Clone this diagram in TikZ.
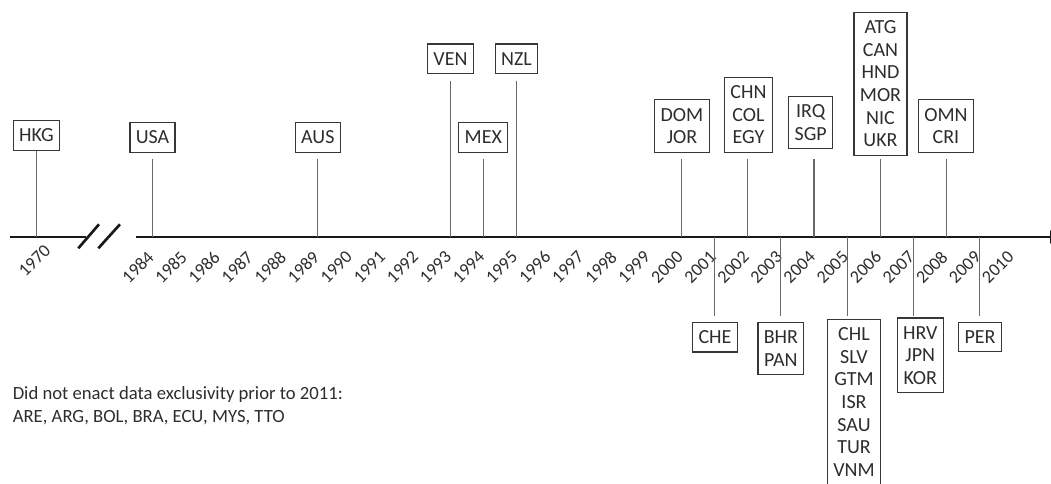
\documentclass[tikz,border=0pt]{standalone}
\usepackage{fontspec}
\setmainfont{Carlito}
\usetikzlibrary{arrows.meta,positioning}
\definecolor{inkgray}{RGB}{45,45,45}
\definecolor{stemgray}{RGB}{105,105,105}
\definecolor{boxgray}{RGB}{55,55,55}

\tikzset{
  country/.style={draw=boxgray,line width=0.9pt,align=center,text=inkgray,
    inner xsep=4.4pt,inner ysep=6.2pt,font=\fontsize{15}{17}\selectfont},
  stem/.style={draw=stemgray,line width=0.8pt,shorten >=4.7pt},
  yearlab/.style={rotate=45,anchor=east,inner sep=0pt,text=inkgray,
    font=\fontsize{13.5}{14}\selectfont},
  axisline/.style={line width=2pt,black!90}
}

\begin{document}
\begin{tikzpicture}[x=0.75pt,y=-0.75pt]
\clip (0,0) rectangle (1051,483);
% time axis, broken after 1970
\coordinate (axleft) at (10,237);
\coordinate (axbreak) at (86,237);
\coordinate (axstart) at (136,237);
\coordinate (axend) at (1062,237);
\draw[axisline] (axleft) -- (axbreak);
\draw[axisline] (78.3,248.3) -- (99,224.3);
\draw[axisline] (98.3,248.3) -- (120,224.3);
\draw[axisline,-{Triangle[length=9pt,width=9.5pt]}] (axstart) -- (axend);

% years
\coordinate (y1970) at (36.7,237);
\node[yearlab] (lab1970) at (47.6,247.4) {1970};
\foreach \yr in {1984,...,2010}{
  \coordinate (y\yr) at ({152.4+33.08*(\yr-1984)},237);
  \node[yearlab] (lab\yr) at ([xshift=-1.2pt,yshift=-12.8pt]y\yr) {\yr};
}

% above the axis
\node[country,anchor=south] (hkg) at (36.5,150.7) {HKG};
\node[country,anchor=south] (usa) at (152.5,152.7) {USA};
\node[country,anchor=south] (aus) at (317.8,152.7) {AUS};
\node[country,anchor=south] (ven) at (450.5,74) {VEN};
\node[country,anchor=south] (mex) at (483.3,152.7) {MEX};
\node[country,anchor=south] (nzl) at (516.5,74) {NZL};
\node[country,anchor=south] (domjor) at (682,152.7) {DOM\\JOR};
\node[country,anchor=south] (chnegy) at (748.5,152.7) {CHN\\COL\\EGY};
\node[country,anchor=south] (irqsgp) at (810.7,149.3) {IRQ\\SGP};
\node[country,anchor=south] (atgukr) at (880.5,155.7) {ATG\\CAN\\HND\\MOR\\NIC\\UKR};
\node[country,anchor=south] (omncri) at (946,152.7) {OMN\\CRI};

\draw[stem,shorten >=0pt] (y1970) -- (y1970 |- hkg.south);
\draw[stem] (y1984) -- (y1984 |- usa.south);
\draw[stem] (y1989) -- (y1989 |- aus.south);
\draw[stem,shorten >=5pt] (y1993) -- (y1993 |- ven.south);
\draw[stem] (y1994) -- (y1994 |- mex.south);
\draw[stem,shorten >=5pt] (y1995) -- (y1995 |- nzl.south);
\draw[stem] (y2000) -- (y2000 |- domjor.south);
\draw[stem] (y2002) -- (y2002 |- chnegy.south);
\draw[stem,shorten >=7.3pt] (y2004) -- (y2004 |- irqsgp.south);
\draw[stem,shorten >=2.5pt] (y2006) -- (y2006 |- atgukr.south);
\draw[stem] (y2008) -- (y2008 |- omncri.south);

% below the axis
\node[country,anchor=north] (che) at (715,321.7) {CHE};
\node[country,anchor=north] (bhrpan) at (780.9,321.7) {BHR\\PAN};
\node[country,anchor=north] (chlvnm) at (854,318.7) {CHL\\SLV\\GTM\\ISR\\SAU\\TUR\\VNM};
\node[country,anchor=north] (hrvkor) at (920.3,317.3) {HRV\\JPN\\KOR};
\node[country,anchor=north] (per) at (980,321.7) {PER};

\draw[stem,shorten >=4.3pt] (y2001) -- (y2001 |- che.north);
\draw[stem,shorten >=4.3pt] (y2003) -- (y2003 |- bhrpan.north);
\draw[stem,shorten >=2pt] (y2005) -- (y2005 |- chlvnm.north);
\draw[stem,shorten >=1pt] (y2007) -- (y2007 |- hrvkor.north);
\draw[stem,shorten >=4.3pt] (y2009) -- (y2009 |- per.north);

\node[anchor=north west,align=left,inner sep=0pt,text=inkgray,
  font=\fontsize{14}{17.3}\selectfont] (note) at (12.5,386.5)
  {Did not enact data exclusivity prior to 2011:\\ARE, ARG, BOL, BRA, ECU, MYS, TTO};
\end{tikzpicture}
\end{document}
